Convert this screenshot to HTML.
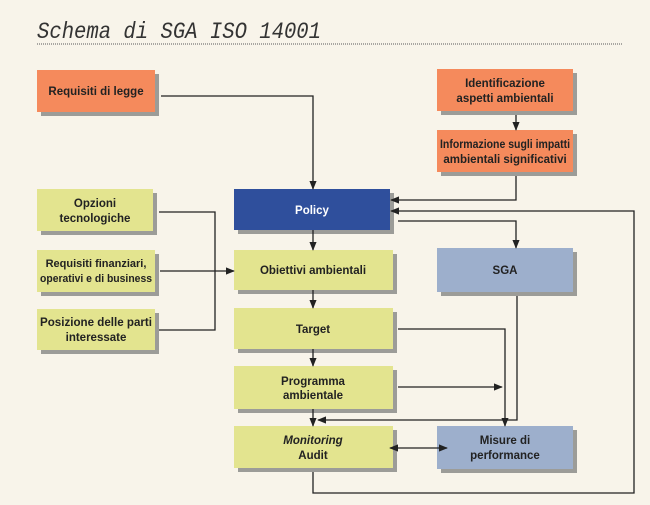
<!DOCTYPE html>
<html><head><meta charset="utf-8"><style>
html,body{margin:0;padding:0;background:#f8f4ea;}
svg{display:block;}
text{font-family:"Liberation Sans",sans-serif;font-weight:bold;font-size:11.5px;fill:#222;}
</style></head><body>
<svg width="650" height="505" viewBox="0 0 650 505" xmlns="http://www.w3.org/2000/svg">
<defs>
<marker id="a" viewBox="0 0 10 10" refX="9" refY="5" markerWidth="7" markerHeight="7" orient="auto-start-reverse"><path d="M0,1 L10,5 L0,9 z" fill="#222"/></marker>
</defs>
<rect width="650" height="505" fill="#f8f4ea"/>
<text x="37" y="38" textLength="284" lengthAdjust="spacingAndGlyphs" style="font-family:'Liberation Mono',monospace;font-style:italic;font-weight:normal;font-size:23px;fill:#333">Schema di SGA ISO 14001</text>
<line x1="37" y1="44" x2="622" y2="44" stroke="#777" stroke-width="1.2" stroke-dasharray="1,1"/>
<g fill="#9c9c98">
<rect x="41" y="74" width="118" height="42"/><rect x="441" y="73" width="136" height="42"/><rect x="441" y="134" width="136" height="42"/>
<rect x="41" y="193" width="116" height="42"/><rect x="238" y="193" width="156" height="41"/>
<rect x="41" y="254" width="118" height="42"/><rect x="238" y="254" width="159" height="40"/><rect x="441" y="252" width="136" height="44"/>
<rect x="41" y="313" width="118" height="41"/><rect x="238" y="312" width="159" height="41"/>
<rect x="238" y="370" width="159" height="43"/><rect x="238" y="430" width="159" height="42"/><rect x="441" y="430" width="136" height="43"/>
</g>
<g fill="#f58a5c">
<rect x="37" y="70" width="118" height="42"/><rect x="437" y="69" width="136" height="42"/><rect x="437" y="130" width="136" height="42"/>
</g>
<g fill="#e3e48f">
<rect x="37" y="189" width="116" height="42"/><rect x="37" y="250" width="118" height="42"/><rect x="37" y="309" width="118" height="41"/>
<rect x="234" y="250" width="159" height="40"/><rect x="234" y="308" width="159" height="41"/><rect x="234" y="366" width="159" height="43"/><rect x="234" y="426" width="159" height="42"/>
</g>
<rect x="234" y="189" width="156" height="41" fill="#2f4f9c"/>
<g fill="#9dafcc"><rect x="437" y="248" width="136" height="44"/><rect x="437" y="426" width="136" height="43"/></g>
<g fill="none" stroke="#222" stroke-width="1.3">
<polyline points="161,96 313,96 313,189" marker-end="url(#a)"/>
<line x1="516" y1="115" x2="516" y2="130" marker-end="url(#a)"/>
<polyline points="516,176 516,200 391,200" marker-end="url(#a)"/>
<polyline points="313,472 313,493 634,493 634,211 391,211" marker-end="url(#a)"/>
<polyline points="398,221 516,221 516,248" marker-end="url(#a)"/>
<line x1="313" y1="230" x2="313" y2="250" marker-end="url(#a)"/>
<polyline points="159,212 215,212 215,330 159,330"/>
<line x1="160" y1="271" x2="234" y2="271" marker-end="url(#a)"/>
<line x1="313" y1="290" x2="313" y2="308" marker-end="url(#a)"/>
<line x1="313" y1="349" x2="313" y2="366" marker-end="url(#a)"/>
<polyline points="398,329 505,329 505,426" marker-end="url(#a)"/>
<line x1="398" y1="387" x2="502" y2="387" marker-end="url(#a)"/>
<polyline points="517,296 517,420 318,420" marker-end="url(#a)"/>
<line x1="313" y1="409" x2="313" y2="426" marker-end="url(#a)"/>
<line x1="390" y1="448" x2="447" y2="448" marker-start="url(#a)" marker-end="url(#a)"/>
</g>
<text x="96" y="95" text-anchor="middle">Requisiti di legge</text>
<text x="505" y="87" text-anchor="middle">Identificazione</text>
<text x="505" y="102" text-anchor="middle">aspetti ambientali</text>
<text x="505" y="148" text-anchor="middle" textLength="130" lengthAdjust="spacingAndGlyphs">Informazione sugli impatti</text>
<text x="505" y="163" text-anchor="middle">ambientali significativi</text>
<text x="95" y="207" text-anchor="middle">Opzioni</text>
<text x="95" y="222" text-anchor="middle">tecnologiche</text>
<text x="312" y="214" text-anchor="middle" style="fill:#fff">Policy</text>
<text x="96" y="267" text-anchor="middle" style="font-size:11px">Requisiti finanziari,</text>
<text x="96" y="282" text-anchor="middle" textLength="112" lengthAdjust="spacingAndGlyphs" style="font-size:11px">operativi e di business</text>
<text x="313" y="274" text-anchor="middle">Obiettivi ambientali</text>
<text x="505" y="274" text-anchor="middle">SGA</text>
<text x="96" y="326" text-anchor="middle" textLength="112" lengthAdjust="spacingAndGlyphs">Posizione delle parti</text>
<text x="96" y="341" text-anchor="middle">interessate</text>
<text x="313" y="333" text-anchor="middle">Target</text>
<text x="313" y="385" text-anchor="middle">Programma</text>
<text x="313" y="399" text-anchor="middle">ambientale</text>
<text x="313" y="444" text-anchor="middle" style="font-style:italic">Monitoring</text>
<text x="313" y="459" text-anchor="middle">Audit</text>
<text x="505" y="444" text-anchor="middle">Misure di</text>
<text x="505" y="459" text-anchor="middle">performance</text>
</svg>
</body></html>
